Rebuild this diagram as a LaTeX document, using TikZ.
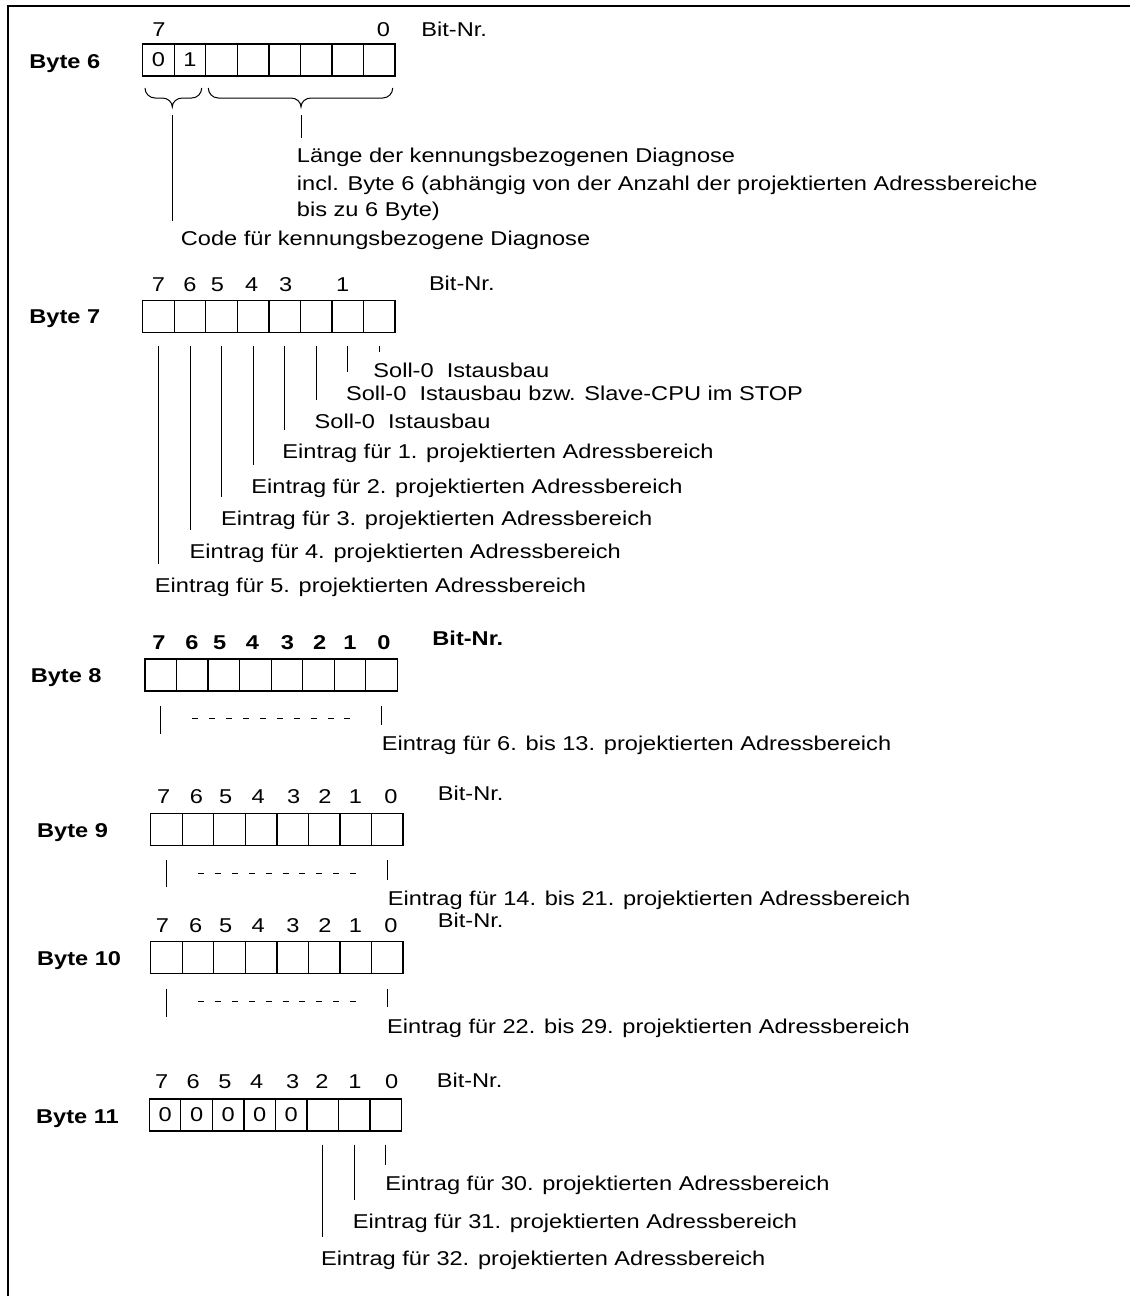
\documentclass[tikz,border=0pt]{standalone}
\usepackage{fontspec}
\setmainfont{Liberation Sans}[FakeStretch=1.18]

\begin{document}
\begin{tikzpicture}[
    x=0.5pt, y=-0.5pt,
    cell/.style={rectangle, draw, line width=0.65pt,
                 minimum width=15.77pt, minimum height=16pt, inner sep=0pt},
    bytelbl/.style={anchor=base west, inner sep=0pt, font=\bfseries},
    bitno/.style={anchor=base, inner sep=0pt},
    txt/.style={anchor=base west, inner sep=0pt},
    tick/.style={line width=0.5pt, shorten <=6.5pt, shorten >=14pt},
    endtick/.style={line width=0.5pt},
    dots/.style={line width=0.5pt, dash pattern=on 3pt off 5.45pt},
    brace/.style={line width=0.5pt},
    frame/.style={line width=0.65pt},
]
\useasboundingbox (0,0) rectangle (1130,1296);

% ── frame: top and left edge only ─────────────────────────────────
\draw[frame] (8,1296) -- (8,6) -- (1130,6);

% ── Byte 6  y=60 : code + length ──────────────────────────────────
\node[bytelbl] (b6) at (29,68) {Byte 6};
\node[bitno] (n6-7) at (159,36) {7};
\node[bitno] (n6-0) at (383.5,36) {0};
\node[txt]   (bit6) at (421,36) {Bit-Nr.};
\foreach \i/\t in {0/0,1/1,2/,3/,4/,5/,6/,7/}
    \node[cell] (c6-\i) at (142.7+31.54*\i+15.77, 60) {\t};

% braces under bits 7..6 and 5..0
\coordinate (tip1) at (172.3,107);
\coordinate (tip2) at (301,107);
\draw[brace] (145,88) to[out=-90,in=180] (155,98) -- (162.3,98)
    to[out=0,in=90] (tip1) to[out=90,in=180] (182.3,98) -- (191.7,98)
    to[out=0,in=-90] (201.7,88);
\draw[brace] (208.3,88) to[out=-90,in=180] (218.3,98) -- (291,98)
    to[out=0,in=90] (tip2) to[out=90,in=180] (311,98) -- (382.7,98)
    to[out=0,in=-90] (392.7,88);

\node[txt] (len1) at (296.5,162) {Länge der kennungsbezogenen Diagnose};
\node[txt] (len2) at (296.5,190) {incl. Byte 6 (abhängig von der Anzahl der projektierten Adressbereiche};
\node[txt] (len3) at (296.5,216) {bis zu 6 Byte)};
\node[txt] (code) at (180.5,245) {Code für kennungsbezogene Diagnose};

\draw[tick, shorten <=4pt, shorten >=12pt] (tip2) -- (tip2 |- len1.base);
\draw[tick, shorten <=4pt, shorten >=12pt] (tip1) -- (tip1 |- code.base);

% ── Byte 7  y=316 : single bits ───────────────────────────────────
\node[bytelbl] (b7) at (29,323) {Byte 7};
\foreach \x/\n in {158.5/7,190/6,217.5/5,251.8/4,285.8/3,342.8/1}
    \node[bitno] (n7-\n) at (\x,291) {\n};
\node[txt] (bit7) at (428.6,290) {Bit-Nr.};
\foreach \i in {0,...,7}
    \node[cell] (c7-\i) at (142.7+31.54*\i+15.77, 316.5) {};

\node[txt] (s1) at (373,377) {Soll-0~~Istausbau};
\node[txt] (s2) at (345.7,400) {Soll-0~~Istausbau bzw. Slave-CPU im STOP};
\node[txt] (s3) at (314.3,428) {Soll-0~~Istausbau};
\node[txt] (e1) at (282,458) {Eintrag für 1. projektierten Adressbereich};
\node[txt] (e2) at (251,493) {Eintrag für 2. projektierten Adressbereich};
\node[txt] (e3) at (220.7,525) {Eintrag für 3. projektierten Adressbereich};
\node[txt] (e4) at (189.3,558) {Eintrag für 4. projektierten Adressbereich};
\node[txt] (e5) at (154.5,592) {Eintrag für 5. projektierten Adressbereich};

\draw[tick, shorten >=12.5pt] (c7-7.south) -- (c7-7.south |- s1.base);
\draw[tick] (c7-6.south) -- (c7-6.south |- s2.base);
\draw[tick] (c7-5.south) -- (c7-5.south |- s3.base);
\draw[tick] (c7-4.south) -- (c7-4.south |- e1.base);
\draw[tick] (c7-3.south) -- (c7-3.south |- e2.base);
\draw[tick] (c7-2.south) -- (c7-2.south |- e3.base);
\draw[tick] (c7-1.south) -- (c7-1.south |- e4.base);
\draw[tick] (c7-0.south) -- (c7-0.south |- e5.base);

% ── Byte 8  y=675 : bold header ───────────────────────────────────
\node[bytelbl] (b8) at (30.4,682) {Byte 8};
\foreach \x/\n in {159/7,192/6,219.6/5,252.5/4,287.5/3,319.6/2,350/1,384/0}
    \node[bitno, font=\bfseries] (n8-\n) at (\x,649) {\n};
\node[txt, font=\bfseries] (bit8) at (432,645) {Bit-Nr.};
\foreach \i in {0,...,7}
    \node[cell] (c8-\i) at (145+31.54*\i+15.77, 675) {};

\node[txt] (e8) at (381.4,750) {Eintrag für 6. bis 13. projektierten Adressbereich};
\draw[endtick] ([yshift=-7pt]c8-0.south) -- ++(0,-14pt);
\draw[dots] ([yshift=-13.5pt]c8-1.south) -- ([yshift=-13.5pt]c8-6.south);
\draw[tick, shorten <=7pt, shorten >=12.5pt] (c8-7.south) -- (c8-7.south |- e8.base);

% ── Byte 9  y=830 ─────────────────────────────────────────────────
\node[bytelbl] (b9) at (36.8,837) {Byte 9};
\foreach \x/\n in {163.6/7,196.4/6,225.7/5,258.2/4,293.6/3,325/2,355.4/1,391/0}
    \node[bitno] (n9-\n) at (\x,803) {\n};
\node[txt] (bit9) at (437.5,800) {Bit-Nr.};
\foreach \i in {0,...,7}
    \node[cell] (c9-\i) at (150.7+31.54*\i+15.77, 829.5) {};

\node[txt] (e9) at (387.5,905) {Eintrag für 14. bis 21. projektierten Adressbereich};
\draw[endtick] ([yshift=-7pt]c9-0.south) -- ++(0,-13.5pt);
\draw[dots] ([yshift=-13.5pt]c9-1.south) -- ([yshift=-13.5pt]c9-6.south);
\draw[tick, shorten <=7pt, shorten >=12.5pt] (c9-7.south) -- (c9-7.south |- e9.base);

% ── Byte 10  y=957 ────────────────────────────────────────────────
\node[bytelbl] (b10) at (36.8,965) {Byte 10};
\foreach \x/\n in {162.5/7,195.7/6,225.7/5,258.2/4,292.9/3,325/2,355.4/1,391/0}
    \node[bitno] (n10-\n) at (\x,932) {\n};
\node[txt] (bit10) at (437.5,927) {Bit-Nr.};
\foreach \i in {0,...,7}
    \node[cell] (c10-\i) at (150.7+31.54*\i+15.77, 957.5) {};

\node[txt] (e10) at (386.8,1033) {Eintrag für 22. bis 29. projektierten Adressbereich};
\draw[endtick] ([yshift=-7.5pt]c10-0.south) -- ++(0,-14pt);
\draw[dots] ([yshift=-13.5pt]c10-1.south) -- ([yshift=-13.5pt]c10-6.south);
\draw[tick, shorten <=7.5pt, shorten >=13pt] (c10-7.south) -- (c10-7.south |- e10.base);

% ── Byte 11  y=1115 : bits 2..0 ───────────────────────────────────
\node[bytelbl] (b11) at (35.7,1123) {Byte 11};
\foreach \x/\n in {161.7/7,193.3/6,225/5,256.7/4,292.7/3,322/2,355/1,391.7/0}
    \node[bitno] (n11-\n) at (\x,1088.5) {\n};
\node[txt] (bit11) at (436.4,1087) {Bit-Nr.};
\foreach \i/\t in {0/0,1/0,2/0,3/0,4/0,5/,6/,7/}
    \node[cell] (c11-\i) at (149.3+31.54*\i+15.77, 1115) {\t};

\node[txt] (t30) at (385,1190) {Eintrag für 30. projektierten Adressbereich};
\node[txt] (t31) at (352.5,1228) {Eintrag für 31. projektierten Adressbereich};
\node[txt] (t32) at (320.7,1265) {Eintrag für 32. projektierten Adressbereich};

\draw[tick, shorten >=12.5pt] (c11-7.south) -- (c11-7.south |- t30.base);
\draw[tick] (c11-6.south) -- (c11-6.south |- t31.base);
\draw[tick] (c11-5.south) -- (c11-5.south |- t32.base);

\end{tikzpicture}
\end{document}
